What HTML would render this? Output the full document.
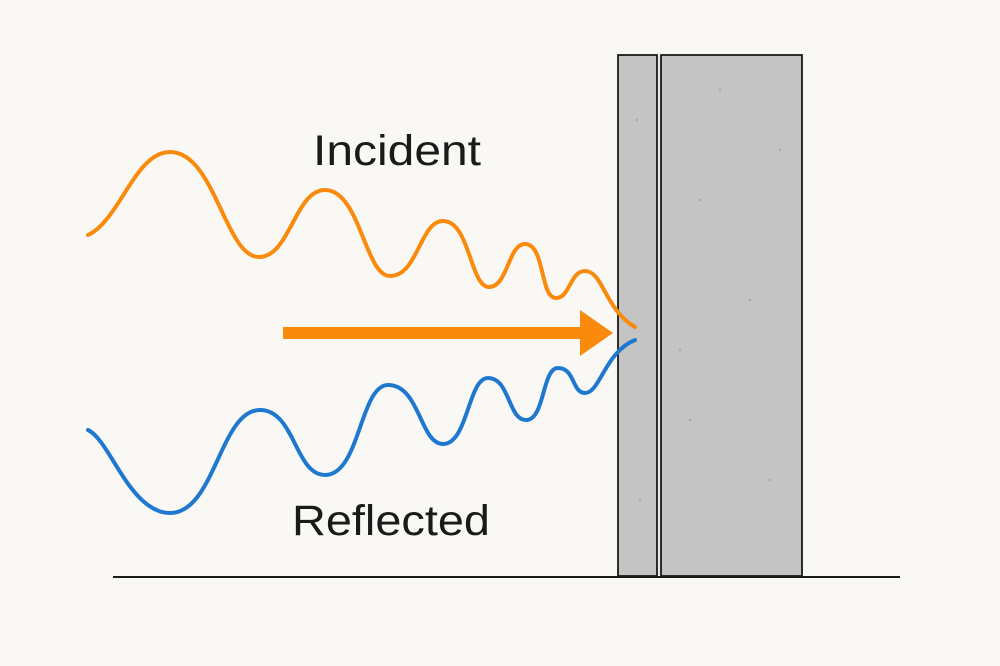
<!DOCTYPE html>
<html><head><style>
html,body{margin:0;padding:0;background:#f9f8f5;}
svg{display:block}
</style></head><body>
<svg width="1000" height="666" viewBox="0 0 1000 666" xmlns="http://www.w3.org/2000/svg">
<rect width="1000" height="666" fill="#f9f8f5"/>
<rect x="618" y="55" width="39" height="521" fill="#c4c4c4" stroke="#1a1a1a" stroke-width="1.8"/>
<rect x="661" y="55" width="141" height="521" fill="#c4c4c4" stroke="#1a1a1a" stroke-width="1.8"/>
<rect x="658" y="56" width="2" height="519" fill="#e8e8e6"/>
<g fill="#a8a8a8">
<circle cx="637" cy="120" r="1.2"/><circle cx="700" cy="200" r="1.2"/><circle cx="750" cy="300" r="1.2"/><circle cx="690" cy="420" r="1.2"/><circle cx="770" cy="480" r="1.2"/><circle cx="640" cy="500" r="1.2"/><circle cx="720" cy="90" r="1.2"/><circle cx="780" cy="150" r="1.2"/><circle cx="680" cy="350" r="1.2"/>
</g>
<line x1="113" y1="577" x2="900" y2="577" stroke="#1a1a1a" stroke-width="2"/>
<path d="M88,235 C120,220 135,152 170,152 C215,152 225,257 259,257 C290,257 295,190 325,190 C360,190 365,276 390,276 C418,276 420,221 443,221 C470,221 470,287 489,287 C508,287 508,244 525,244 C545,244 540,298 556,298 C570,298 570,271 585,271 C603,271 605,310 635,327" fill="none" stroke="#f98a0c" stroke-width="4" stroke-linecap="round"/>
<path d="M88,430 C110,440 130,513 170,513 C215,513 220,410 260,410 C295,410 295,475 325,475 C360,475 360,385 388,385 C420,385 420,444 443,444 C468,444 468,378 488,378 C510,378 508,420 526,420 C545,420 542,368 558,368 C575,368 572,393 585,393 C600,393 605,352 635,340" fill="none" stroke="#1f78cf" stroke-width="4" stroke-linecap="round"/>
<rect x="283" y="327" width="300" height="12" fill="#f98a0c"/>
<polygon points="580,310 613,333 580,356" fill="#f98a0c"/>
<text x="313" y="165" font-family="Liberation Sans, sans-serif" font-size="43" fill="#1a1a1a" textLength="168" lengthAdjust="spacingAndGlyphs">Incident</text>
<text x="292" y="535" font-family="Liberation Sans, sans-serif" font-size="43" fill="#1a1a1a" textLength="198" lengthAdjust="spacingAndGlyphs">Reflected</text>
</svg>
</body></html>
